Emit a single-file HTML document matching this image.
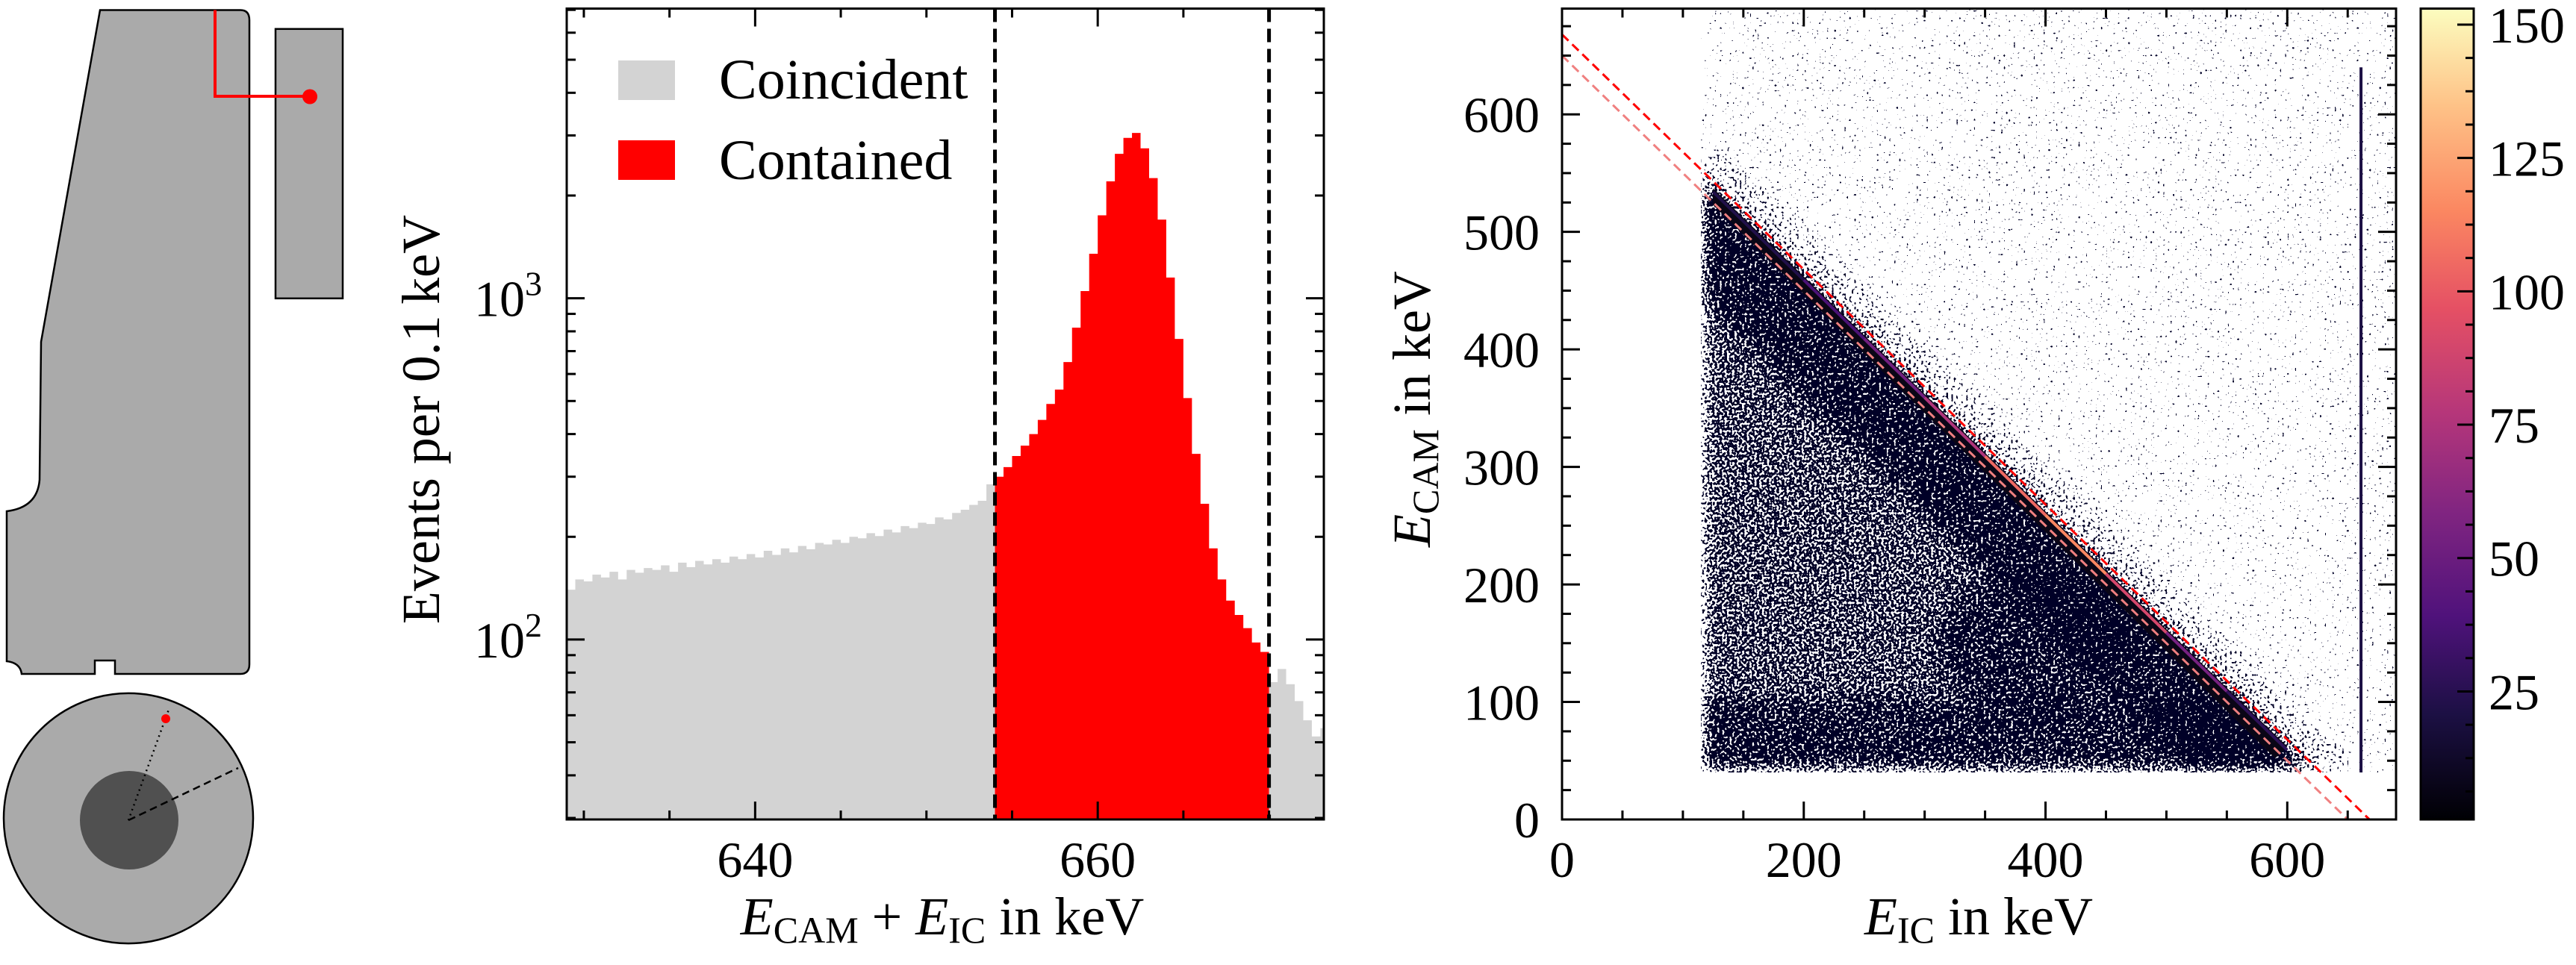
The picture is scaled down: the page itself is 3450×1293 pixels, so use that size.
<!DOCTYPE html>
<html><head><meta charset="utf-8"><style>
html,body{margin:0;padding:0;background:#fff;width:3450px;height:1293px;overflow:hidden}
svg{display:block}
text{font-family:"Liberation Serif",serif;fill:#000}
</style></head><body>
<svg id="fig" width="3450" height="1293" viewBox="0 0 3450 1293" xmlns="http://www.w3.org/2000/svg">
<defs>
  <linearGradient id="magmaGrad" x1="0" y1="1" x2="0" y2="0">
    <stop offset="0" stop-color="#000004"/><stop offset="0.13" stop-color="#1c1044"/>
    <stop offset="0.25" stop-color="#4f127b"/><stop offset="0.38" stop-color="#812581"/>
    <stop offset="0.5" stop-color="#b5367a"/><stop offset="0.63" stop-color="#e55064"/>
    <stop offset="0.75" stop-color="#fb8761"/><stop offset="0.88" stop-color="#fec287"/>
    <stop offset="1" stop-color="#fcfdbf"/>
  </linearGradient>
</defs>

<g>
  <path d="M134,13.5 L322,13.5 Q334,13.5 334,27 L334,890 Q334,903 322,903 L154,903 L154,885 L127,885 L127,903 L29,903 Q27,888 9,886 L9,685 Q50,680 53,643 L55,458 Z" fill="#aaaaaa" stroke="#000" stroke-width="2.5"/>
  <rect x="369" y="38.8" width="90" height="361" fill="#aaaaaa" stroke="#000" stroke-width="2.5"/>
  <polyline points="288,13.5 288,129 415,129" fill="none" stroke="#ff0000" stroke-width="4"/>
  <ellipse cx="415" cy="129.5" rx="10" ry="10" fill="#ff0000"/>
  <ellipse cx="172" cy="1096.5" rx="167" ry="167.6" fill="#aaaaaa" stroke="#000" stroke-width="2.5"/>
  <ellipse cx="173" cy="1099" rx="66" ry="66" fill="#505050"/>
  <line x1="172" y1="1099" x2="227" y2="948" stroke="#000" stroke-width="2.5" stroke-dasharray="2,5"/>
  <line x1="172" y1="1099" x2="319" y2="1029" stroke="#000" stroke-width="2.5" stroke-dasharray="10,6"/>
  <circle cx="222" cy="963" r="6" fill="#ff0000"/>
</g>

<g id="hist"></g>
<g id="scat"></g>
<g id="cbar"></g>
</svg>
<script>
// ---------------- Histogram data ----------------
const binStart = 629, binWidth = 0.5;
const coincidentLeft = [140,150,148,155,152,158,150,160,157,162,
  160,165,158,168,163,170,166,172,168,175,
  172,178,174,182,177,185,180,188,184,192,
  190,196,192,200,198,205,201,210,206,215,
  212,220,218,228,225,235,240,248,255,285];
const containedCounts = [300,320,345,370,400,440,490,540,
  650,820,1050,1350,1750,2200,2650,2950,
  3050,2750,2250,1700,1150,760,510,350,
  250,185,150,130,118,108,98,92];
const coincidentRight = [75,82,74,66,58,52,55];
const cutLines = [654, 670];
const histXTicksMajor = [640, 660];
const histXDomain = [629, 673.2];
const histYDomain = [29.7, 7060];
const legendLabels = ["Coincident", "Contained"];

// ---------------- Scatter data ----------------
const photopeak = 662;
const cutSums = [668, 650];
const cutColors = ["#ff0000", "#f08080"];
const regionMin = [115, 40];
const bandX = [125, 200, 250, 300, 350, 400, 450, 500, 550, 600];
const bandIntensity = [15, 30, 45, 60, 90, 120, 110, 70, 40, 15];
const verticalLineX = 661;
const verticalLineTop = 640;
const scatterXTicks = [0, 200, 400, 600];
const scatterYTicks = [0, 100, 200, 300, 400, 500, 600];
const scatterDomain = [0, 690];
const cbarTicks = [25, 50, 75, 100, 125, 150];
const cbarDomain = [1, 153];

const NS = "http://www.w3.org/2000/svg";
function mk(tag, attrs, parent) {
  const e = document.createElementNS(NS, tag);
  for (const k in attrs) e.setAttribute(k, attrs[k]);
  if (parent) parent.appendChild(e);
  return e;
}
const FS = 68, LFS = 72;

// ---------- Histogram ----------
const H = document.getElementById('hist');
const hL = 759, hR = 1773, hT = 11.5, hB = 1098;
const hx = e => hL + (e - histXDomain[0]) / (histXDomain[1] - histXDomain[0]) * (hR - hL);
const lyMin = Math.log10(histYDomain[0]), lyMax = Math.log10(histYDomain[1]);
const hy = v => hB - (Math.log10(v) - lyMin) / (lyMax - lyMin) * (hB - hT);

function drawBars(arr, startE, color, name) {
  let d = "";
  arr.forEach((v, i) => {
    const e0 = startE + i * binWidth;
    const e1 = Math.min(e0 + binWidth, histXDomain[1]);
    d += `M${hx(e0)},${hB}V${hy(v)}H${hx(e1)}V${hB}Z`;
  });
  const p = mk('path', {d: d, fill: color}, H);
  
  
}
drawBars(coincidentLeft, binStart, '#d3d3d3', 'coincident-bars-left');
drawBars(containedCounts, cutLines[0], '#ff0000', 'contained-bars');
drawBars(coincidentRight, cutLines[1], '#d3d3d3', 'coincident-bars-right');

cutLines.forEach((c, i) => {
  const l = mk('line', {x1: hx(c), x2: hx(c), y1: hT, y2: hB, stroke: '#000', 'stroke-width': 5, 'stroke-dasharray': '18,9'}, H);
  
  
});

const hf = mk('rect', {x: hL, y: hT, width: hR - hL, height: hB - hT, fill: 'none', stroke: '#000', 'stroke-width': 3}, H);



function tick(g, x1, y1, x2, y2) { mk('line', {x1, y1, x2, y2, stroke: '#000', 'stroke-width': 3}, g); }
const hTicks = mk('g', {}, H);


for (let e = 630; e <= 673; e += 5) {
  const len = histXTicksMajor.includes(e) ? 24 : 12;
  tick(hTicks, hx(e), hB, hx(e), hB - len);
  tick(hTicks, hx(e), hT, hx(e), hT + len);
}
for (let dec = 1; dec <= 3; dec++) {
  for (let m = 1; m <= 9; m++) {
    const v = m * Math.pow(10, dec);
    if (v < histYDomain[0] || v > histYDomain[1]) continue;
    const len = m === 1 ? 24 : 12;
    tick(hTicks, hL, hy(v), hL + len, hy(v));
    tick(hTicks, hR, hy(v), hR - len, hy(v));
  }
}
histXTicksMajor.forEach(e => {
  const t = mk('text', {x: hx(e), y: 1175, 'font-size': FS, 'text-anchor': 'middle'}, H);
  t.textContent = e;
  
  
});
[2, 3].forEach(p => {
  const t = mk('text', {x: 726, y: hy(Math.pow(10, p)) + 24, 'font-size': FS, 'text-anchor': 'end'}, H);
  t.innerHTML = '10<tspan font-size="46" dy="-28">' + p + '</tspan>';
  
  
});
const hyl = mk('text', {x: 0, y: 0, 'font-size': LFS, 'text-anchor': 'middle', transform: 'translate(588,562) rotate(-90)'}, H);
hyl.textContent = 'Events per 0.1\u2009keV';


const hxl = mk('text', {x: 1262, y: 1252, 'font-size': LFS, 'text-anchor': 'middle'}, H);
hxl.innerHTML = '<tspan font-style="italic">E</tspan><tspan font-size="50" dy="11">CAM</tspan><tspan dy="-11"> + </tspan><tspan font-style="italic">E</tspan><tspan font-size="50" dy="11">IC</tspan><tspan dy="-11"> in keV</tspan>';


const lg = mk('g', {}, H);


['#d3d3d3', '#ff0000'].forEach((c, i) => {
  const r = mk('rect', {x: 828, y: 81 + i * 107, width: 76, height: 53, fill: c}, lg);
  
  
  const t = mk('text', {x: 963, y: 132 + i * 108, 'font-size': 76}, lg);
  t.textContent = legendLabels[i];
  
  
});

// ---------- Scatter ----------
const S = document.getElementById('scat');
const sL = 2092, sR = 3209, sT = 11.5, sB = 1098;
const sx = e => sL + (e - scatterDomain[0]) / (scatterDomain[1] - scatterDomain[0]) * (sR - sL);
const sy = e => sB - (e - scatterDomain[0]) / (scatterDomain[1] - scatterDomain[0]) * (sB - sT);

const magmaStops = [[0,0,0,4],[0.13,28,16,68],[0.25,79,18,123],[0.38,129,37,129],[0.5,181,54,122],[0.63,229,80,100],[0.75,251,135,97],[0.88,254,194,135],[1,252,253,191]];
function magma(t) {
  t = Math.max(0, Math.min(1, t));
  for (let i = 1; i < magmaStops.length; i++) {
    if (t <= magmaStops[i][0]) {
      const a = magmaStops[i - 1], b = magmaStops[i];
      const f = (t - a[0]) / (b[0] - a[0]);
      return `rgb(${Math.round(a[1] + f * (b[1] - a[1]))},${Math.round(a[2] + f * (b[2] - a[2]))},${Math.round(a[3] + f * (b[3] - a[3]))})`;
    }
  }
}

const defs = document.querySelector('defs');
const filt = mk('filter', {id: 'speck', x: sL, y: sT, width: sR - sL, height: sB - sT, filterUnits: 'userSpaceOnUse'}, defs);
mk('feGaussianBlur', {in: 'SourceGraphic', stdDeviation: 12, result: 'dens'}, filt);
mk('feTurbulence', {type: 'fractalNoise', baseFrequency: 0.3, numOctaves: 1, seed: 4, result: 'n'}, filt);
mk('feColorMatrix', {in: 'n', type: 'matrix', values: '0 0 0 0 0  0 0 0 0 0  0 0 0 0 0  1 0 0 0 0', result: 'na'}, filt);
mk('feComposite', {in: 'dens', in2: 'na', operator: 'arithmetic', k1: 0, k2: 0.55, k3: 1, k4: -0.27, result: 'sum'}, filt);
const ct = mk('feComponentTransfer', {in: 'sum', result: 'thr'}, filt);
mk('feFuncA', {type: 'discrete', tableValues: '0 1'}, ct);
mk('feColorMatrix', {in: 'thr', type: 'matrix', values: '0 0 0 0 0  0 0 0 0 0  0 0 0 0 0.02  0 0 0 1 0'}, filt);

const cp = mk('clipPath', {id: 'regionClip'}, defs);
const xm = regionMin[0], ym = regionMin[1], P = photopeak;
mk('rect', {x: sx(xm), y: sy(690), width: sx(690) - sx(xm), height: sy(ym) - sy(690)}, cp);

function poly(g, pts, op) {
  mk('polygon', {points: pts.map(p => sx(p[0]) + ',' + sy(p[1])).join(' '), fill: '#000', 'fill-opacity': op}, g);
}
const densOuter = mk('g', {'clip-path': 'url(#regionClip)'}, S);


const dg = mk('g', {filter: 'url(#speck)'}, densOuter);
poly(dg, [[xm, ym], [700, ym], [700, 700], [xm, 700]], 0.1);
poly(dg, [[xm, ym], [P - ym, ym], [xm, P - xm]], 0.5);
poly(dg, [[xm, P - xm], [P - ym, ym], [P - ym - 100, ym], [xm, P - xm - 100]], 0.38);
poly(dg, [[xm, P - xm + 40], [xm, P - xm], [P - ym, ym], [P - ym + 40, ym]], 0.2);
poly(dg, [[xm, ym], [580, ym], [560, 100], [xm, 100]], 0.3);
mk('ellipse', {cx: sx(390), cy: sy(150), rx: sx(470) - sx(390), ry: sy(90) - sy(150), fill: '#000', 'fill-opacity': 0.3}, dg);

const core = mk('polygon', {points: [[bandX[0], P - bandX[0]], [bandX[bandX.length - 1], P - bandX[bandX.length - 1]], [bandX[bandX.length - 1] - 10, P - bandX[bandX.length - 1] - 10], [bandX[0], P - bandX[0] - 14]].map(p => sx(p[0]) + ',' + sy(p[1])).join(' '), fill: '#0a0616'}, S);


for (let i = 0; i < bandX.length - 1; i++) {
  const x0 = bandX[i], x1 = bandX[i + 1];
  const c = (bandIntensity[i] + bandIntensity[i + 1]) / 2;
  const seg = mk('line', {x1: sx(x0), y1: sy(P - x0 - 3), x2: sx(x1), y2: sy(P - x1 - 3), stroke: magma((c - cbarDomain[0]) / (cbarDomain[1] - cbarDomain[0])), 'stroke-width': 4}, S);
  
  
}
const vl = mk('rect', {x: sx(verticalLineX) - 2, y: sy(verticalLineTop), width: 4, height: sy(ym) - sy(verticalLineTop), fill: '#1c1044'}, S);


cutSums.forEach((s, i) => {
  const l = mk('line', {x1: sx(0), y1: sy(s), x2: sx(s), y2: sy(0), stroke: cutColors[i], 'stroke-width': 3, 'stroke-dasharray': '12,7'}, S);
  
  
});
const sf = mk('rect', {x: sL, y: sT, width: sR - sL, height: sB - sT, fill: 'none', stroke: '#000', 'stroke-width': 3}, S);


const sTicks = mk('g', {}, S);


for (let e = 0; e <= 690; e += 50) {
  const len = scatterXTicks.includes(e) ? 24 : 12;
  tick(sTicks, sx(e), sB, sx(e), sB - len);
  tick(sTicks, sx(e), sT, sx(e), sT + len);
}
for (let e = 0; e <= 690; e += 25) {
  const len = scatterYTicks.includes(e) ? 24 : 12;
  tick(sTicks, sL, sy(e), sL + len, sy(e));
  tick(sTicks, sR, sy(e), sR - len, sy(e));
}
scatterXTicks.forEach(e => {
  const t = mk('text', {x: sx(e), y: 1175, 'font-size': FS, 'text-anchor': 'middle'}, S);
  t.textContent = e;
  
  
});
scatterYTicks.forEach(e => {
  const t = mk('text', {x: 2062, y: sy(e) + 24, 'font-size': FS, 'text-anchor': 'end'}, S);
  t.textContent = e;
  
  
});
const syl = mk('text', {x: 0, y: 0, 'font-size': LFS, 'text-anchor': 'middle', transform: 'translate(1915,548) rotate(-90)'}, S);
syl.innerHTML = '<tspan font-style="italic">E</tspan><tspan font-size="50" dy="11">CAM</tspan><tspan dy="-11"> in keV</tspan>';


const sxl = mk('text', {x: 2650, y: 1252, 'font-size': LFS, 'text-anchor': 'middle'}, S);
sxl.innerHTML = '<tspan font-style="italic">E</tspan><tspan font-size="50" dy="11">IC</tspan><tspan dy="-11"> in keV</tspan>';



// ---------- Colorbar ----------
const C = document.getElementById('cbar');
const cL = 3242, cR = 3313, cT = 11.5, cB = 1098;
const cy = v => cB - (v - cbarDomain[0]) / (cbarDomain[1] - cbarDomain[0]) * (cB - cT);
const cr = mk('rect', {x: cL, y: cT, width: cR - cL, height: cB - cT, fill: 'url(#magmaGrad)', stroke: '#000', 'stroke-width': 3}, C);


for (let v = 6.25; v <= cbarDomain[1]; v += 6.25) {
  const len = Math.abs(v % 25) < 1e-6 ? 22 : 11;
  tick(C, cR, cy(v), cR - len, cy(v));
}
cbarTicks.forEach(v => {
  const t = mk('text', {x: 3333, y: cy(v) + 24, 'font-size': FS}, C);
  t.textContent = v;
  
  
});
</script>
</body></html>
